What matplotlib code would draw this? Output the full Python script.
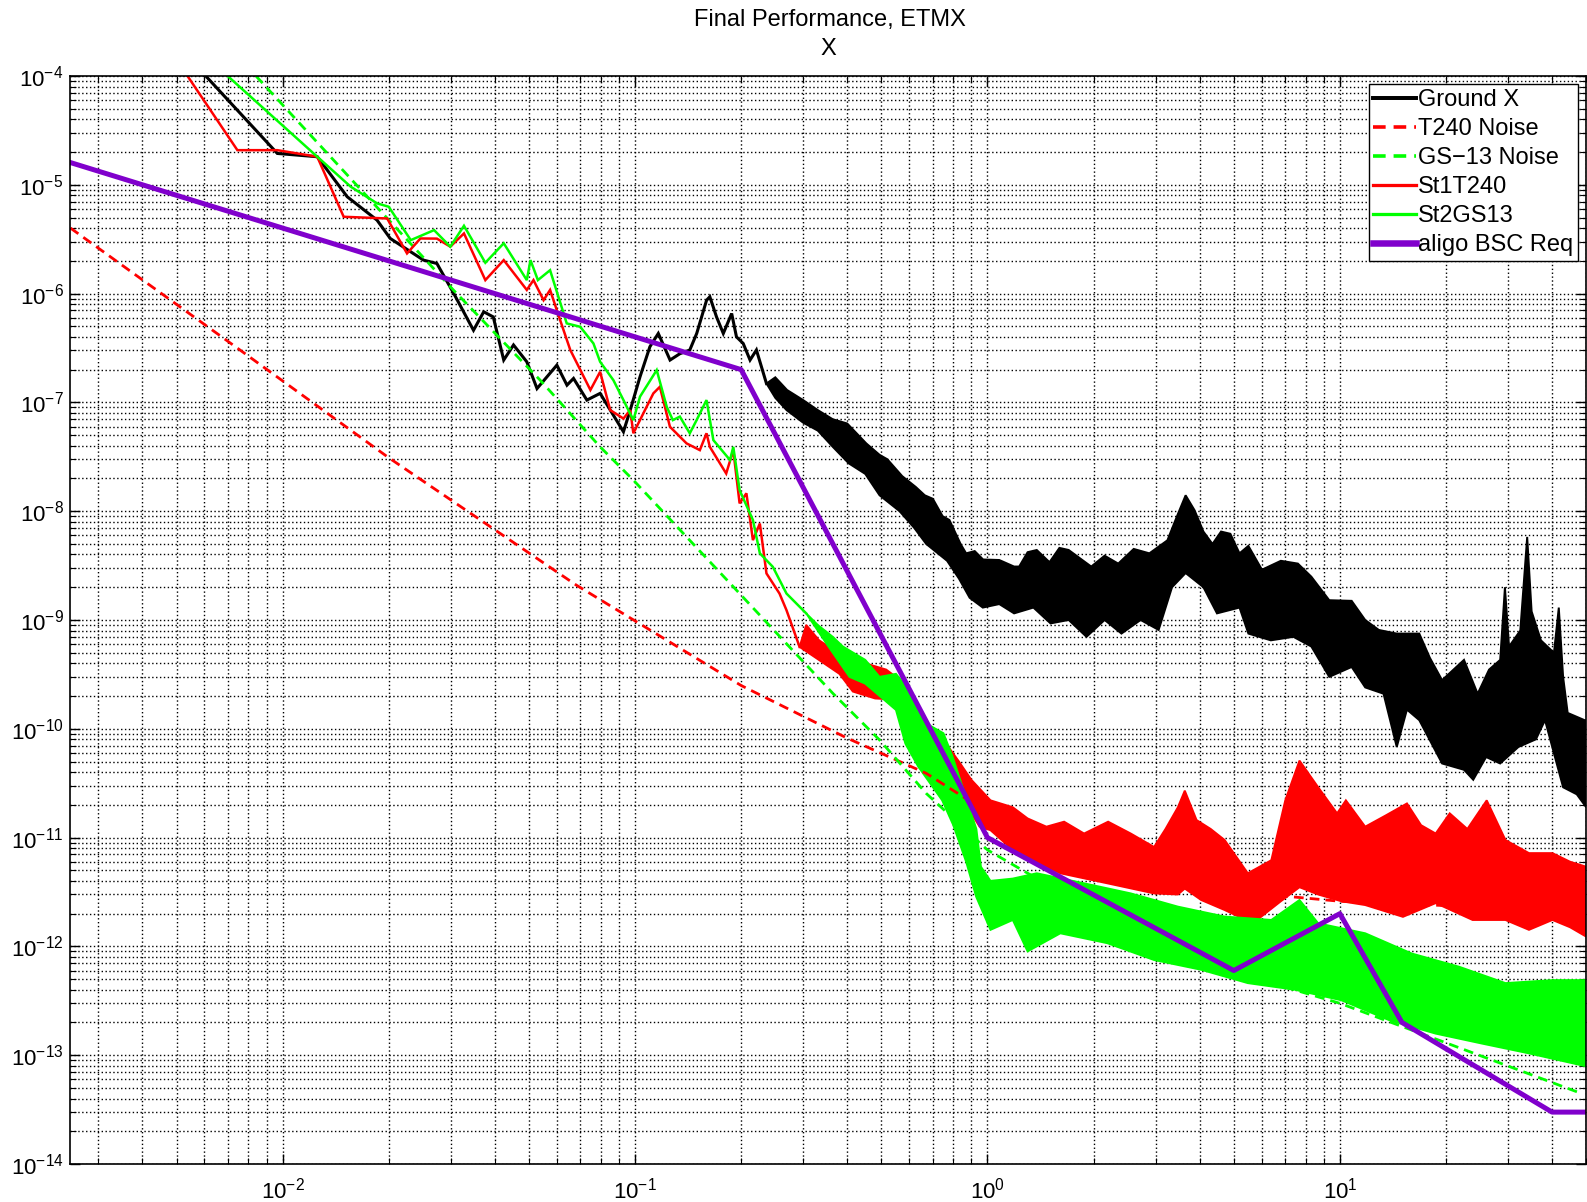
import numpy as np
import matplotlib
matplotlib.use("Agg")
import matplotlib.pyplot as plt
from matplotlib.ticker import LogLocator, FixedLocator, NullFormatter

plt.rcParams.update({
    "font.family": ["Liberation Sans", "DejaVu Sans"],
    "mathtext.fontset": "custom",
    "mathtext.rm": "Liberation Sans",
    "mathtext.it": "Liberation Sans:italic",
    "mathtext.bf": "Liberation Sans:bold",
    "mathtext.default": "regular",
})

# ---------------- data (frequency in Hz, amplitude spectra) ----------------
# Ground X: single trace at low frequency, then the upper / lower envelope of the noisy band
gnd_f = [0.00605, 0.00966, 0.01254, 0.01525, 0.01853, 0.0202, 0.0251, 0.0274, 0.0306, 0.0348,
         0.0372, 0.0396, 0.0424, 0.0452, 0.0493, 0.0527, 0.060, 0.0641, 0.0669, 0.073, 0.0796,
         0.0927, 0.0969, 0.1033, 0.1102, 0.1164, 0.1257, 0.134, 0.143, 0.1496, 0.1596, 0.163,
         0.1703, 0.178, 0.188, 0.194, 0.2027, 0.212, 0.221, 0.236]
gnd_a = [1.0e-4, 1.94e-5, 1.81e-5, 7.76e-6, 4.73e-6, 3.21e-6, 2.03e-6, 1.89e-6, 1.0e-6, 4.6e-7,
         6.8e-7, 6.1e-7, 2.45e-7, 3.37e-7, 2.36e-7, 1.34e-7, 2.2e-7, 1.44e-7, 1.66e-7, 1.05e-7, 1.21e-7,
         5.37e-8, 8.5e-8, 1.72e-7, 3.25e-7, 4.3e-7, 2.45e-7, 2.8e-7, 3.03e-7, 4.3e-7, 8.7e-7, 9.35e-7,
         6.1e-7, 4.3e-7, 6.56e-7, 4.0e-7, 3.48e-7, 2.45e-7, 3.03e-7, 1.49e-7]
gnd_hi_f = [0.236, 0.25, 0.27, 0.30, 0.33, 0.364, 0.40, 0.453, 0.494, 0.52, 0.573, 0.626, 0.664, 0.70,
            0.746, 0.78, 0.839, 0.87, 0.92, 0.972, 1.08, 1.19, 1.23, 1.3, 1.38, 1.5, 1.6, 1.70, 1.97,
            2.15, 2.35, 2.6, 2.88, 3.24, 3.45, 3.65, 3.87, 4.10, 4.35, 4.6, 4.89, 5.19, 5.5, 6.01, 6.8,
            7.60, 8.30, 9.33, 10.8, 11.8, 12.9, 14.5, 16.8, 18.0, 19.5, 22.5, 24.6, 26.5, 28.5, 29.4,
            30.2, 32.5, 34.0, 35.0, 37.2, 40.5, 41.8, 43.0, 44.3, 49.5, 50.0]
gnd_hi = [1.49e-7, 1.7e-7, 1.3e-7, 1.05e-7, 8.5e-8, 7.0e-8, 6.4e-8, 4.2e-8, 3.3e-8, 3.0e-8, 2.1e-8,
          1.67e-8, 1.4e-8, 1.3e-8, 9e-9, 8.3e-9, 5e-9, 4.1e-9, 4.3e-9, 3.6e-9, 3.56e-9, 3.1e-9, 3.1e-9,
          4.2e-9, 4.4e-9, 3.4e-9, 4.6e-9, 4.4e-9, 3.1e-9, 3.9e-9, 3.3e-9, 4.5e-9, 4.1e-9, 5.4e-9, 9e-9,
          1.4e-8, 1.02e-8, 6.5e-9, 5.0e-9, 6.5e-9, 6.2e-9, 4.1e-9, 4.8e-9, 2.9e-9, 3.5e-9, 3.3e-9,
          2.5e-9, 1.52e-9, 1.5e-9, 1.0e-9, 8.1e-10, 7.5e-10, 7.5e-10, 4.5e-10, 2.8e-10, 4.3e-10,
          2.1e-10, 3.5e-10, 4.3e-10, 2.0e-9, 5.7e-10, 8e-10, 5.8e-9, 1.2e-9, 6.5e-10, 5e-10, 1.3e-9,
          3e-10, 1.4e-10, 1.2e-10, 1.2e-10]
gnd_lo_f = [0.236, 0.25, 0.269, 0.30, 0.33, 0.364, 0.404, 0.45, 0.494, 0.563, 0.62, 0.67, 0.768, 0.83,
            0.89, 0.97, 1.08, 1.19, 1.35, 1.51, 1.70, 1.91, 2.15, 2.4, 2.72, 3.06, 3.34, 3.65, 4.10,
            4.48, 5.19, 5.50, 6.37, 7.38, 8.30, 9.33, 10.8, 11.8, 13.3, 14.5, 15.5, 16.8, 19.5, 22.5,
            23.9, 26.0, 28.5, 32.1, 36.0, 38.2, 43.0, 47.0, 50.0]
gnd_lo = [1.49e-7, 1.1e-7, 8.5e-8, 6.5e-8, 5.5e-8, 3.9e-8, 2.75e-8, 2.2e-8, 1.4e-8, 1.0e-8, 7e-9,
          5e-9, 3.5e-9, 2.4e-9, 1.6e-9, 1.3e-9, 1.4e-9, 1.15e-9, 1.3e-9, 9.3e-10, 1.0e-9, 7.0e-10,
          1.0e-9, 7.5e-10, 1.0e-9, 8.1e-10, 2.0e-9, 2.7e-9, 2.0e-9, 1.15e-9, 1.3e-9, 7.5e-10, 6.5e-10,
          7.0e-10, 5.7e-10, 3.0e-10, 3.7e-10, 2.4e-10, 2.1e-10, 6.8e-11, 1.5e-10, 1.2e-10, 4.8e-11,
          4.2e-11, 3.4e-11, 5.5e-11, 4.8e-11, 6.8e-11, 8e-11, 1.2e-10, 2.9e-11, 2.5e-11, 1.9e-11]

# Instrument noise models
t240_f = [0.0025, 0.0076, 0.020, 0.068, 0.2, 0.4, 0.67, 0.95, 2.0, 5.0, 10.0, 50.0]
t240_a = [4.0e-6, 3.0e-7, 3.1e-8, 2.1e-9, 2.5e-10, 8.2e-11, 3.9e-11, 1.9e-11, 7e-12, 3.2e-12,
          2.6e-12, 2.1e-12]
gs13_f = [0.0084, 0.0305, 0.0538, 0.0796, 0.0989, 0.19, 0.364, 0.494, 0.67, 1.0, 1.5, 2.0, 3.0,
          5.0, 6.4, 10.0, 20.0, 48.0]
gs13_a = [1e-4, 1.08e-6, 1.6e-7, 3.9e-8, 1.93e-8, 2.02e-9, 2.12e-10, 7.9e-11, 2.55e-11, 7.7e-12,
          3.6e-12, 2.4e-12, 1.3e-12, 6.0e-13, 4.6e-13, 3.0e-13, 1.3e-13, 4.5e-14]

# Stage 1 (T240 sensor)
st1_f = [0.00537, 0.00744, 0.00966, 0.01254, 0.0149, 0.0198, 0.02254, 0.0246, 0.0274, 0.0299,
         0.0327, 0.0376, 0.0424, 0.0493, 0.0515, 0.055, 0.0574, 0.0613, 0.0655, 0.0747, 0.0796,
         0.085, 0.0927, 0.0969, 0.0989, 0.1127, 0.1176, 0.1256, 0.14, 0.1527, 0.1595, 0.163, 0.1814,
         0.19, 0.198, 0.207, 0.216, 0.226, 0.236, 0.257, 0.269, 0.293]
st1_a = [1e-4, 2.08e-5, 2.08e-5, 1.81e-5, 5.08e-6, 4.9e-6, 2.34e-6, 3.21e-6, 3.2e-6, 2.7e-6,
         3.57e-6, 1.33e-6, 2.03e-6, 1.08e-6, 1.33e-6, 8.7e-7, 1.08e-6, 5.7e-7, 3.03e-7, 1.3e-7, 1.91e-7,
         8.5e-8, 7.1e-8, 8.5e-8, 5.2e-8, 1.21e-7, 1.39e-7, 5.97e-8, 4.2e-8, 3.64e-8, 5.2e-8, 3.9e-8,
         2.22e-8, 3.64e-8, 1.18e-8, 1.46e-8, 5.42e-9, 7.7e-9, 2.68e-9, 1.75e-9, 1.23e-9, 5.66e-10]
st1_hi_f = [0.293, 0.306, 0.333, 0.36, 0.398, 0.45, 0.516, 0.55, 0.62, 0.67, 0.75, 0.83, 0.90, 1.02,
            1.18, 1.3, 1.47, 1.65, 1.88, 2.2, 2.55, 2.97, 3.2, 3.47, 3.63, 3.92, 4.3, 4.71, 5.48, 6.39,
            7.0, 7.68, 8.68, 9.82, 10.4, 11.8, 13.5, 15.5, 17.0, 18.7, 20.5, 23.0, 26.1, 29.5, 34.4,
            40.1, 45.0, 50.0]
st1_hi = [5.66e-10, 9e-10, 6.5e-10, 5.5e-10, 5.0e-10, 4.0e-10, 3.5e-10, 3.0e-10, 1.6e-10, 1.04e-10,
          7.9e-11, 5e-11, 3.4e-11, 2.2e-11, 1.9e-11, 1.5e-11, 1.26e-11, 1.4e-11, 1.09e-11, 1.4e-11,
          1.09e-11, 8.2e-12, 1.2e-11, 1.9e-11, 2.7e-11, 1.45e-11, 1.2e-11, 9.5e-12, 4.7e-12, 6.2e-12,
          2.2e-11, 5.1e-11, 2.9e-11, 1.67e-11, 2.2e-11, 1.26e-11, 1.6e-11, 2.06e-11, 1.3e-11, 1.09e-11,
          1.67e-11, 1.2e-11, 2.2e-11, 9.5e-12, 7.2e-12, 7.2e-12, 6e-12, 5.4e-12]
st1_lo_f = [0.293, 0.333, 0.38, 0.415, 0.48, 0.54, 0.60, 0.67, 0.83, 0.95, 1.02, 1.18, 1.61, 2.19,
            2.97, 3.47, 3.63, 4.04, 4.71, 5.66, 6.8, 7.68, 8.68, 10.1, 11.8, 15.1, 18.7, 23.8, 29.5,
            34.4, 40.1, 45.0, 50.0]
st1_lo = [5.66e-10, 4.28e-10, 3.2e-10, 2.2e-10, 1.9e-10, 1.86e-10, 9e-11, 4.8e-11, 2.55e-11,
          1.26e-11, 1.17e-11, 7.7e-12, 4.7e-12, 3.8e-12, 3.07e-12, 3.0e-12, 3.4e-12, 2.67e-12, 2.16e-12,
          1.63e-12, 2.6e-12, 3.5e-12, 3.0e-12, 2.6e-12, 2.4e-12, 1.87e-12, 2.5e-12, 1.75e-12,
          1.75e-12, 1.42e-12, 1.75e-12, 1.5e-12, 1.23e-12]

# Stage 2 (GS-13 sensor)
st2_f = [0.00698, 0.01254, 0.0156, 0.01853, 0.020, 0.0231, 0.0269, 0.0299, 0.0327, 0.0376, 0.0424,
         0.0493, 0.0505, 0.053, 0.0574, 0.064, 0.0699, 0.0762, 0.0796, 0.0868, 0.0927, 0.0989,
         0.1033, 0.1152, 0.123, 0.128, 0.134, 0.143, 0.1496, 0.1595, 0.1668, 0.186, 0.19, 0.198,
         0.216, 0.226, 0.246, 0.269, 0.306]
st2_a = [1e-4, 1.81e-5, 9.6e-6, 6.75e-6, 6.28e-6, 3.1e-6, 3.83e-6, 2.7e-6, 4.2e-6, 1.92e-6, 2.9e-6,
         1.33e-6, 2.03e-6, 1.33e-6, 1.64e-6, 5.32e-7, 4.95e-7, 3.48e-7, 2.36e-7, 1.6e-7, 1.05e-7,
         6.87e-8, 1.13e-7, 1.98e-7, 9.1e-8, 6.87e-8, 7.4e-8, 5.2e-8, 6.9e-8, 1.05e-7, 4.5e-8, 2.95e-8,
         3.9e-8, 1.56e-8, 8.3e-9, 4.1e-9, 3.08e-9, 1.75e-9, 1.15e-9]
st2_hi_f = [0.306, 0.33, 0.364, 0.389, 0.45, 0.494, 0.55, 0.585, 0.67, 0.75, 0.797, 0.874, 0.93,
            0.958, 1.02, 1.18, 1.38, 1.88, 2.55, 3.47, 4.71, 6.39, 7.68, 8.68, 11.8, 16.0, 21.8, 29.5,
            40.1, 50.0]
st2_hi = [1.15e-9, 9e-10, 7e-10, 5.7e-10, 4.3e-10, 3.0e-10, 3.2e-10, 2.5e-10, 1.12e-10, 9.1e-11,
          5.5e-11, 2.2e-11, 1.2e-11, 5.4e-12, 4.0e-12, 4.2e-12, 4.7e-12, 3.8e-12, 3.07e-12, 2.32e-12,
          1.88e-12, 1.75e-12, 2.67e-12, 1.63e-12, 1.32e-12, 8.6e-13, 6.5e-13, 4.6e-13, 4.9e-13, 4.9e-13]
st2_lo_f = [0.306, 0.35, 0.406, 0.45, 0.55, 0.585, 0.636, 0.744, 0.80, 0.87, 0.929, 1.02, 1.18, 1.3,
            1.61, 2.19, 2.97, 4.04, 5.48, 7.45, 10.1, 13.8, 18.7, 25.3, 34.4, 50.0]
st2_lo = [1.15e-9, 6e-10, 3.0e-10, 2.6e-10, 1.49e-10, 7.3e-11, 4.5e-11, 2.2e-11, 1.3e-11, 6e-12,
          2.86e-12, 1.42e-12, 1.75e-12, 9e-13, 1.32e-12, 1.07e-12, 7.5e-13, 6.1e-13, 4.6e-13, 4.0e-13,
          3.2e-13, 2.1e-13, 1.58e-13, 1.28e-13, 1.04e-13, 7.9e-14]

# aLIGO BSC requirement
req_f = [0.0025, 0.2, 1.0, 5.0, 10.0, 15.0, 40.0, 50.0]
req_a = [1.6e-5, 2e-7, 1e-11, 6e-13, 2e-12, 2e-13, 3e-14, 3e-14]

# axis decades and legend text
x_decades = [1e-2, 1e-1, 1e0, 1e1]
y_decades = [1e-14, 1e-13, 1e-12, 1e-11, 1e-10, 1e-9, 1e-8, 1e-7, 1e-6, 1e-5, 1e-4]
labels = ["Ground X", "T240 Noise", "GS\u221213 Noise", "St1T240", "St2GS13", "aligo BSC Req"]
purple = (0.5, 0.0, 0.8)

# ---------------- figure ----------------
fig = plt.figure(figsize=(15.87, 12.02), dpi=100)
ax = fig.add_axes([0.0444, 0.0316, 0.9551, 0.9052])
ax.set_xscale("log")
ax.set_yscale("log")


def noisy(f, a, hf, h, lf, l, color, lw):
    line, = ax.plot(f, a, color=color, lw=lw, solid_joinstyle="miter")
    xs = np.concatenate([np.asarray(hf), np.asarray(lf)[::-1]])
    ys = np.concatenate([np.asarray(h), np.asarray(l)[::-1]])
    ax.fill(xs, ys, facecolor=color, edgecolor=color, lw=1.4)
    return line


h_gnd = noisy(gnd_f, gnd_a, gnd_hi_f, gnd_hi, gnd_lo_f, gnd_lo, "k", 2.2)
h_t240, = ax.plot(t240_f, t240_a, color="r", lw=2.0, linestyle=(0, (3.5, 2.2)))
h_gs13, = ax.plot(gs13_f, gs13_a, color=(0, 1, 0), lw=2.0, linestyle=(0, (3.5, 2.2)))
h_st1 = noisy(st1_f, st1_a, st1_hi_f, st1_hi, st1_lo_f, st1_lo, "r", 1.8)
h_st2 = noisy(st2_f, st2_a, st2_hi_f, st2_hi, st2_lo_f, st2_lo, (0, 1, 0), 1.8)
h_req, = ax.plot(req_f, req_a, color=purple, lw=3.6)

ax.set_xlim(0.0025, 50)
ax.set_ylim(1e-14, 1e-4)

ax.xaxis.set_major_locator(FixedLocator(x_decades))
ax.yaxis.set_major_locator(FixedLocator(y_decades))
for axis in (ax.xaxis, ax.yaxis):
    axis.set_minor_locator(LogLocator(base=10, subs=np.arange(2, 10), numticks=200))
    axis.set_minor_formatter(NullFormatter())

ax.tick_params(which="both", direction="in", top=True, right=True, colors="k")
ax.tick_params(which="major", length=7, width=1.0, labelsize=16)
ax.tick_params(which="minor", length=4, width=0.8)
ax.tick_params(axis="x", pad=10)
ax.tick_params(axis="y", pad=5)
ax.set_axisbelow(True)
ax.grid(True, which="both", color="k", linestyle=(0, (1.0, 1.8)), linewidth=1.0)
for s in ax.spines.values():
    s.set_linewidth(1.2)

leg = ax.legend([h_gnd, h_t240, h_gs13, h_st1, h_st2, h_req], labels, loc="upper right",
                fontsize=17, frameon=True, fancybox=False, edgecolor="k", framealpha=1,
                handlelength=1.8, handletextpad=0.1, labelspacing=0.3, borderpad=0.2,
                borderaxespad=0.35)
leg.get_frame().set_linewidth(1.0)
for hl in leg.get_lines():
    hl.set_linewidth(hl.get_linewidth() * 1.3)

fig.text(0.523, 1 - 20 / 1202, "Final Performance, ETMX", ha="center", va="center", fontsize=17)
fig.text(0.5217, 1 - 49 / 1202, "X", ha="center", va="center", fontsize=17)

fig.savefig("out.png", dpi=100, facecolor="white")
